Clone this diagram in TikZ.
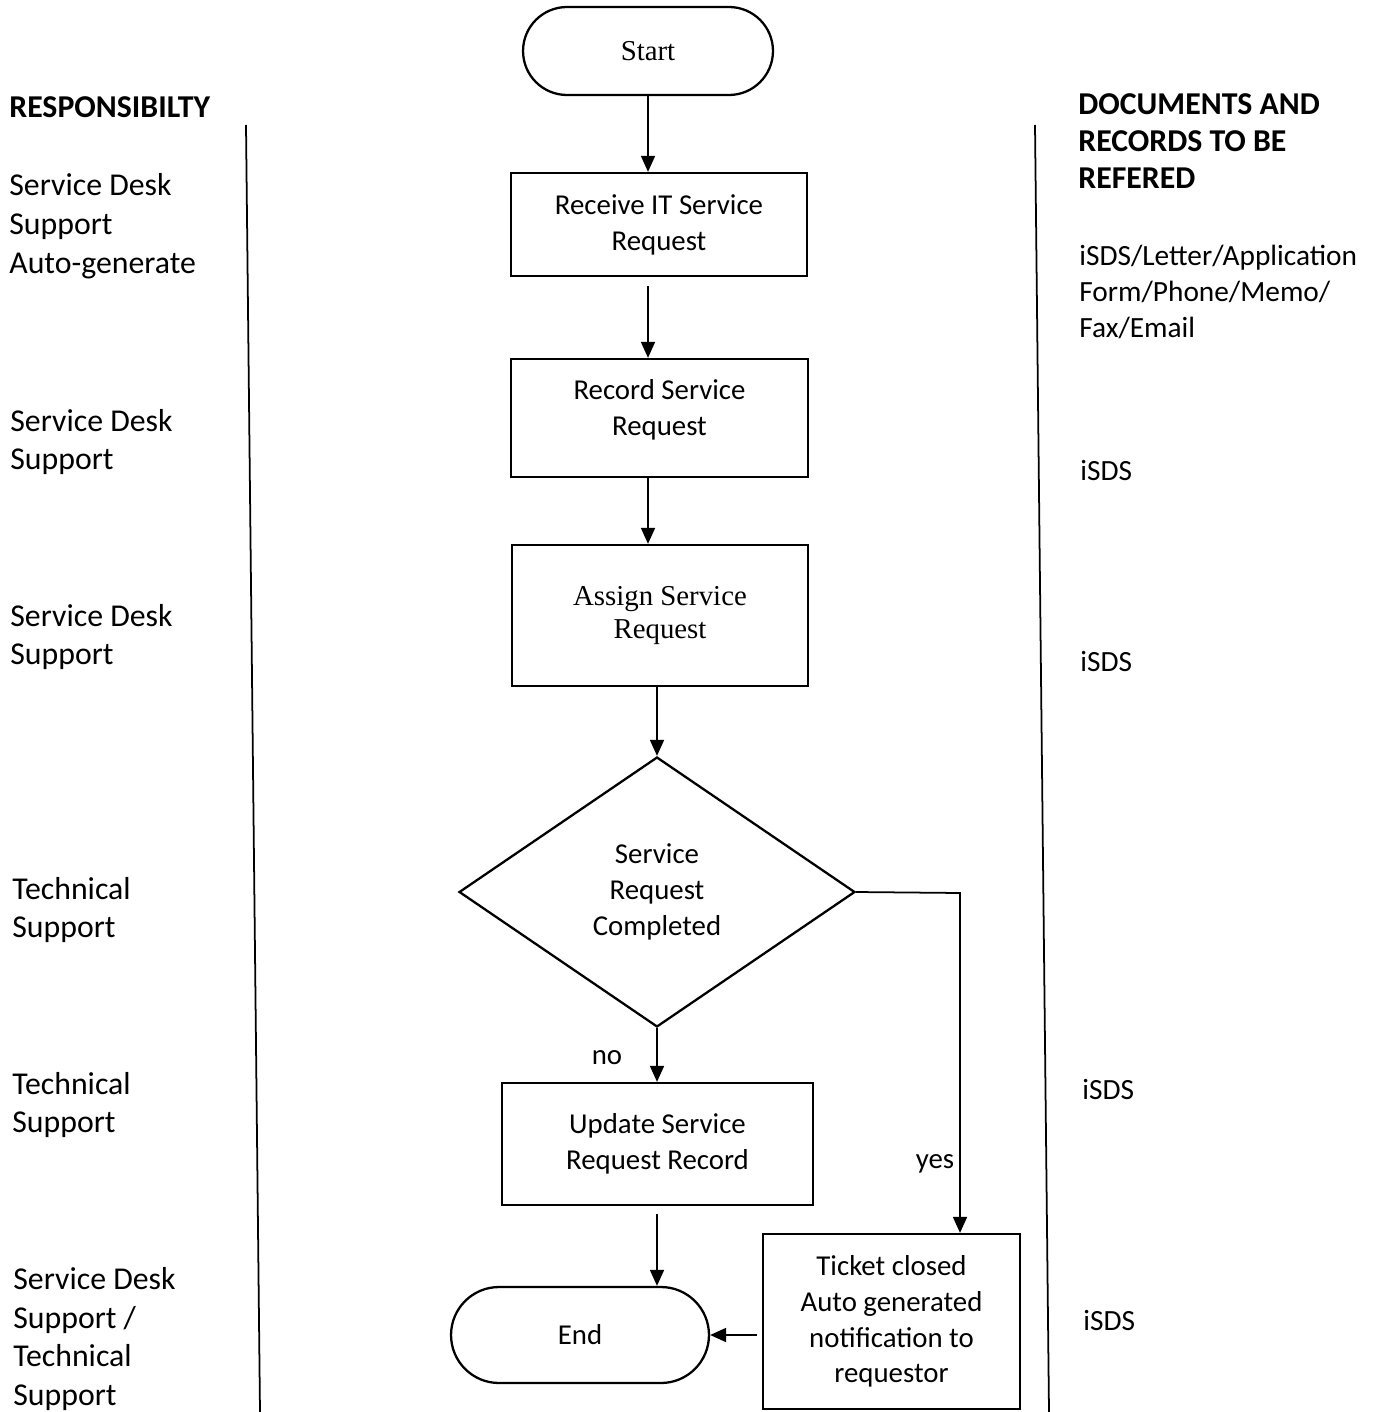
\documentclass[tikz,border=0pt]{standalone}
\usepackage{fontspec}
\setmainfont{Carlito}
\newfontfamily\timesfont{Liberation Serif}
\usetikzlibrary{shapes.geometric,arrows.meta}

\newcommand\colfont{\fontsize{18.1}{22.1}\selectfont}
\newcommand\flowfont{\fontsize{16.4}{20.4}\selectfont}
\newcommand\docfont{\fontsize{16.7}{20.4}\selectfont}
\newcommand\serfont{\timesfont\fontsize{16.4}{19.3}\selectfont}

\tikzset{
  procbox/.style={draw, line width=1.3pt, rectangle, align=center, inner sep=0pt, font=\flowfont},
  termbox/.style={draw, line width=1.3pt, rectangle, align=center, inner sep=0pt, font=\serfont},
  decbox/.style={draw, line width=1.3pt, diamond, align=center, inner sep=0pt, font=\flowfont},
  flow/.style={line width=1pt, -{Triangle[length=0.32cm,width=0.28cm]}},
  sepline/.style={line width=1pt},
  coltext/.style={align=left, anchor=west, inner sep=0pt, font=\colfont},
  doctext/.style={align=left, anchor=west, inner sep=0pt, font=\docfont},
  headtext/.style={align=left, anchor=west, inner sep=0pt, font=\colfont\bfseries}
}

\begin{document}
\begin{tikzpicture}[x=0.02cm,y=-0.02cm]
  \useasboundingbox (0,0) rectangle (1375,1412);

  % column separators
  \draw[sepline] (246,125) -- (260,1412);
  \draw[sepline] (1035,125) -- (1049,1412);

  % headers
  \node[headtext] (resp) at (9,107) {RESPONSIBILTY};
  \node[headtext] (docs) at (1078,141) {DOCUMENTS AND\\[-1pt]RECORDS TO BE\\[-1pt]REFERED};

  % flow
  \node[termbox, rounded corners=0.88cm, minimum width=5cm, minimum height=1.76cm] (start) at (648,51) {Start};
  \node[procbox, minimum width=5.92cm, minimum height=2.06cm] (recv) at (659,224.5) {Receive IT Service\\Request};
  \node[procbox, minimum width=5.94cm, minimum height=2.36cm] (record) at (659.5,418) {Record Service\\Request\\[-0.28cm]};
  \node[termbox, minimum width=5.92cm, minimum height=2.82cm] (assign) at (660,615.5) {Assign Service\\Request};
  \node[decbox, minimum width=7.92cm, minimum height=5.4cm] (check) at (657,892) {Service\\Request\\Completed};
  \node[procbox, minimum width=6.22cm, minimum height=2.44cm] (update) at (657.5,1144) {Update Service\\Request Record};
  \node[termbox, font=\flowfont, rounded corners=0.96cm, minimum width=5.16cm, minimum height=1.92cm] (end) at (580,1335) {End};
  \node[procbox, minimum width=5.14cm, minimum height=3.5cm] (close) at (891.5,1321.5) {Ticket closed\\Auto generated\\notification to\\requestor};

  \node[font=\flowfont, inner sep=0pt] (no) at (607,1058) {no};
  \node[font=\flowfont, inner sep=0pt] (yes) at (935,1164) {yes};
  \coordinate (yesbend) at (960,893);

  \draw[flow] (start.south) -- (start.south |- recv.north);
  \draw[flow, shorten <=0.18cm] (recv.south -| start) -- (record.north -| start);
  \draw[flow] (record.south -| start) -- (assign.north -| start);
  \draw[flow] (assign.south -| check) -- (check.north);
  \draw[flow] (check.south) -- (update.north -| check);
  \draw[flow, shorten <=0.16cm] (update.south -| check) -- (end.north -| check);
  \draw[flow] (check.east) -- (yesbend) -- (yesbend |- close.north);
  \draw[flow, shorten <=0.1cm] (close.west |- end) -- (end.east);

  % responsibility column
  \node[coltext] (r1) at (9,226) {Service Desk\\Support\\Auto-generate};
  \node[coltext] (r2) at (10,442) {Service Desk\\Support};
  \node[coltext] (r3) at (10,637) {Service Desk\\Support};
  \node[coltext] (r4) at (12,910) {Technical\\Support};
  \node[coltext] (r5) at (12,1105) {Technical\\Support};
  \node[coltext] (r6) at (13,1339) {Service Desk\\Support /\\Technical\\Support};

  % documents column
  \node[doctext] (d1) at (1079,292) {iSDS/Letter/Application\\Form/Phone/Memo/\\Fax/Email};
  \node[doctext] (d2) at (1080,471) {iSDS};
  \node[doctext] (d3) at (1080,662) {iSDS};
  \node[doctext] (d4) at (1082,1089) {iSDS};
  \node[doctext] (d5) at (1083,1320) {iSDS};
\end{tikzpicture}
\end{document}
